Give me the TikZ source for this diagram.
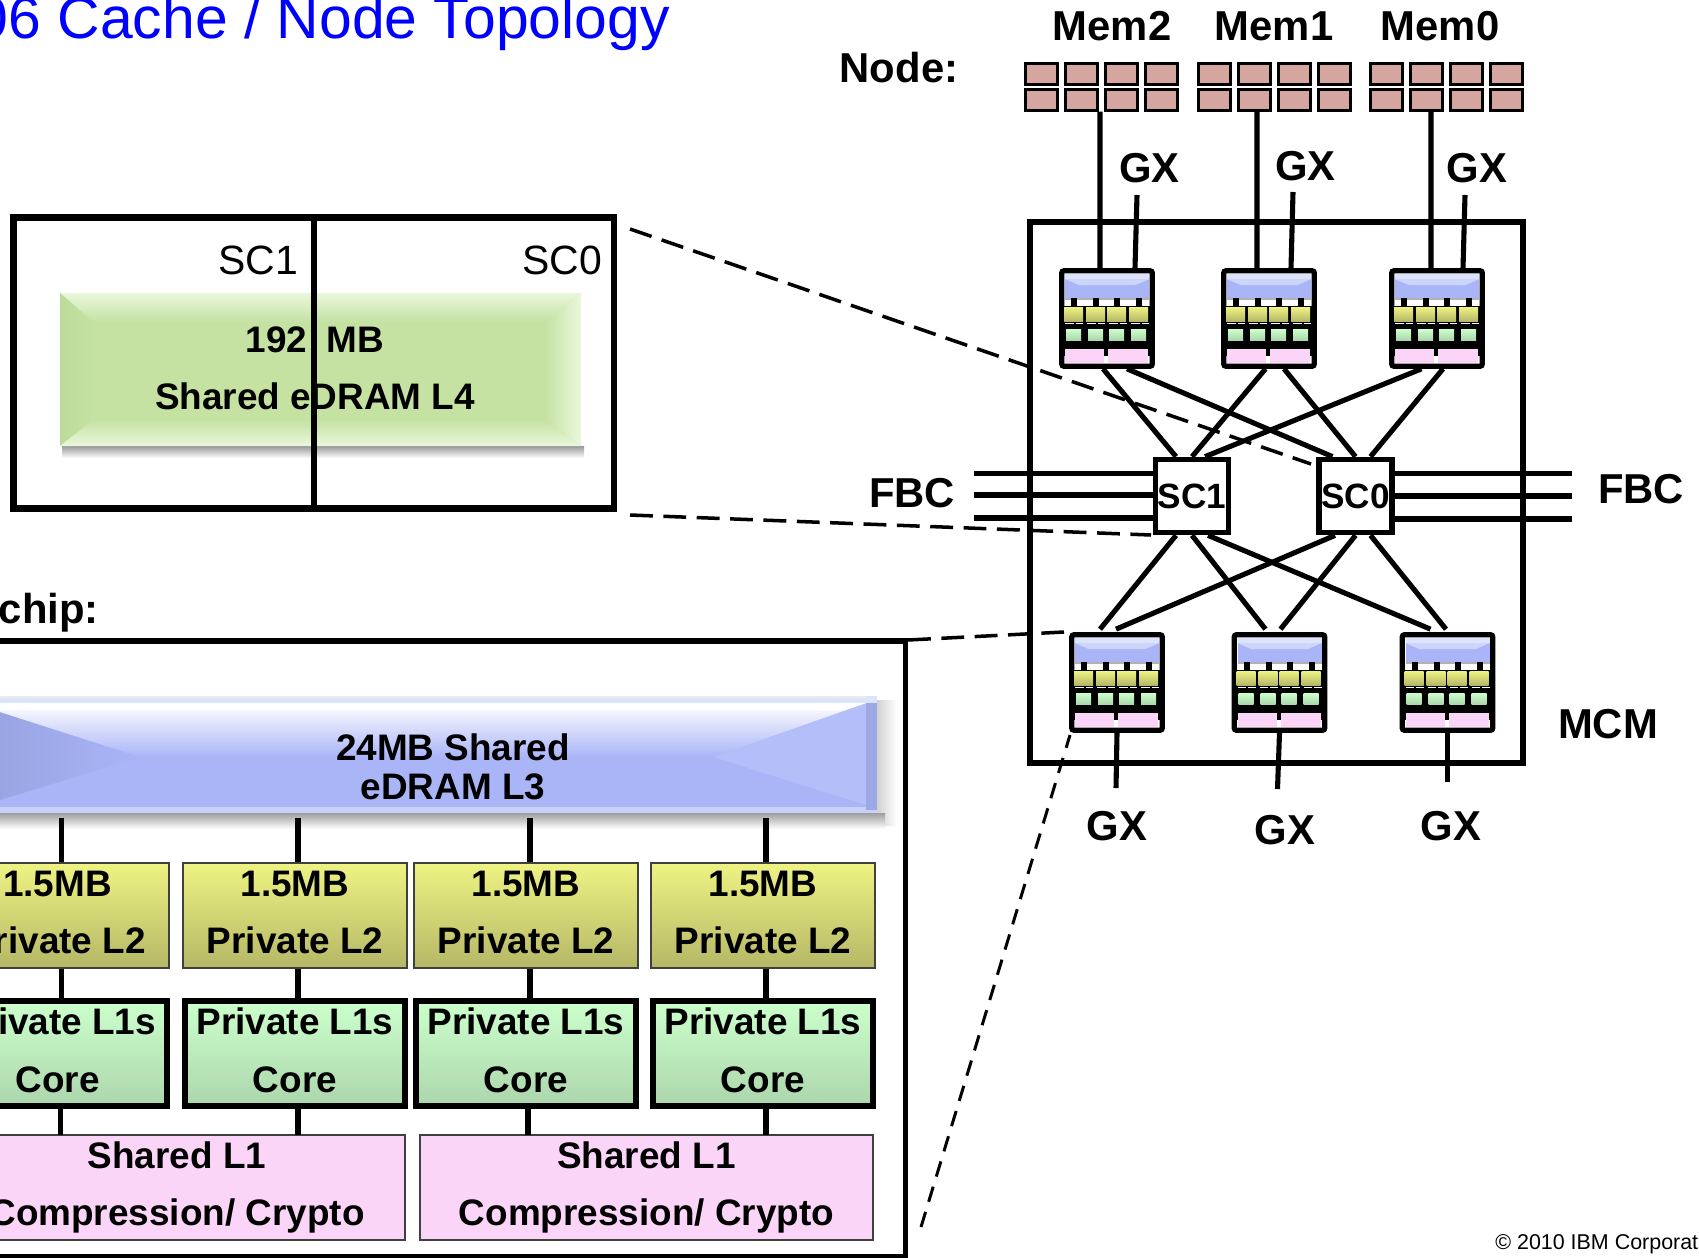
\documentclass[tikz,border=0pt]{standalone}
\usepackage{fontspec}
\setmainfont{Liberation Sans}
\usepackage{tikz}
\usetikzlibrary{calc,positioning,fit}
\definecolor{memfill}{HTML}{D5A6A0}
\definecolor{barblue}{HTML}{AAB5F8}
\definecolor{barlite}{HTML}{DCE4FB}
\definecolor{bardark}{HTML}{97A2E0}
\definecolor{ltwotop}{HTML}{EEF383}
\definecolor{ltwobot}{HTML}{B5B766}
\definecolor{lonetop}{HTML}{CCFFCC}
\definecolor{lonebot}{HTML}{ACD6AC}
\definecolor{pinkfill}{HTML}{FBD5F8}
\definecolor{ebox}{HTML}{C5E2A3}
\definecolor{eboxlite}{HTML}{EAF7DC}
\definecolor{eboxdark}{HTML}{BCDB9A}
\tikzset{
	wire/.style={line width=2.9pt},
	dashwire/.style={line width=2pt,dash pattern=on 13pt off 6pt},
	dashthin/.style={line width=1.7pt,dash pattern=on 9pt off 6pt},
	big/.style={font=\fontsize{23.8pt}{26pt}\selectfont\bfseries,inner sep=0pt},
	mid/.style={font=\fontsize{21pt}{32.6pt}\selectfont\bfseries,inner sep=0pt,align=center},
	thinsc/.style={inner sep=0pt,font=\fontsize{23.3pt}{26pt}\selectfont},
	membox/.style={draw=black,line width=1.6pt,fill=memfill,minimum width=18pt,minimum height=11.5pt,inner sep=0pt},
	chipbox/.style={draw=black,line width=3pt,rounded corners=1.2pt,fill=white,minimum width=51.5pt,minimum height=54.3pt,inner sep=0pt},
	scbox/.style={draw=black,line width=3.3pt,fill=white,minimum width=41.5pt,minimum height=41.5pt,inner sep=0pt,font=\fontsize{20pt}{22pt}\selectfont\bfseries},
	ltwo/.style={draw=black!75,line width=1.2pt,top color=ltwotop,bottom color=ltwobot,mid,minimum width=127pt,minimum height=59.5pt},
	lone/.style={draw=black,line width=3.4pt,top color=lonetop,bottom color=lonebot,mid,minimum width=124.7pt,minimum height=59.5pt},
	shared/.style={draw=black!75,line width=1.2pt,fill=pinkfill,mid,minimum height=59.5pt}
}
\newcommand{\sink}{\rule[-4pt]{0pt}{0pt}}
\newcommand{\smallchip}[2]{
	\node[chipbox] (#1) at (#2) {};
	\begin{scope}[shift={(#1.north west)}]
		\fill[barblue] (6,11) rectangle (90,30);
		\fill[barlite] (6,6) rectangle (90,11);
		\fill[barlite!70!barblue] (6,11) -- (90,11) -- (76,17) -- (20,17) -- cycle;
		\fill[black!30] (6,30) rectangle (90,32);
		\foreach \x in {12,34,55,77} \fill[black] (\x,30) rectangle ++(6,8);
		\fill[black] (5,38) rectangle (91,88);
		\foreach \x in {5,27,48,70} \fill[top color=ltwotop,bottom color=ltwobot] (\x,39) rectangle ++(19,14);
		\foreach \x in {6,28,50,72} \draw[white,line width=.4pt,dash pattern=on 5pt off 1pt] (\x,55.5) -- ++(18,0);
		\foreach \x in {7,29,50,72} \fill[top color=lonetop,bottom color=lonebot] (\x,61) rectangle ++(15,11);
		\fill[pinkfill] (6,81) rectangle (45,95);
		\fill[pinkfill] (49,81) rectangle (89,95);
	\end{scope}
}
\begin{document}
\begin{tikzpicture}[x=0.02cm,y=-0.02cm]
	\useasboundingbox (0,0) rectangle (1699,1257);
	\clip (0,0) rectangle (1699,1257);
	\fill[white] (0,0) rectangle (1699,1257);
	% title and credit
	\node[anchor=base east,text=blue,inner sep=0pt,font=\fontsize{33.5pt}{36pt}\selectfont] (title) at (670,39) {06 Cache / Node Topology};
	\node[anchor=west,inner sep=0pt,font=\fontsize{12.2pt}{14pt}\selectfont] (credit) at (1495,1244) {© 2010 IBM Corporat};
	% node side
	\node[big] (nodelab) at (899,68) {Node:};
	\node[big] (memtwo) at (1112,26) {Mem2};
	\node[big] (memone) at (1274,26) {Mem1};
	\node[big] (memzero) at (1440,26) {Mem0};
	\foreach \g/\x in {c/1024,b/1197,a/1369}
		\foreach \i in {0,1,2,3} {
			\node[membox] (m\g\i) at (\x+17.5+\i*40,74) {};
			\node[membox] (n\g\i) at (\x+17.5+\i*40,100) {};
		}
	\draw[line width=2.9pt] (1030,222) rectangle (1523,763);
	\node[big] (mcmlab) at (1608,724) {MCM};
	% external links
	\node[big] (gxa) at (1149.5,168) {GX};
	\node[big] (gxb) at (1305.5,166) {GX};
	\node[big] (gxc) at (1477,168) {GX};
	\node[big] (gxd) at (1117,826) {GX};
	\node[big] (gxe) at (1285,830) {GX};
	\node[big] (gxf) at (1451,826) {GX};
	\coordinate (ga) at (1137,195);
	\coordinate (gb) at (1293,192);
	\coordinate (gc) at (1465,195);
	\coordinate (gd) at (1116,788);
	\coordinate (ge) at (1277.5,789);
	\coordinate (gf) at (1447.5,782);
	% SC nodes and chips
	\node[scbox] (scone) at (1192,496) {SC1};
	\node[scbox] (sczero) at (1355.5,496) {SC0};
	\smallchip{tone}{1107,318.5}
	\smallchip{ttwo}{1269,318.5}
	\smallchip{tthree}{1437,318.5}
	\smallchip{bone}{1117,682.5}
	\smallchip{btwo}{1279.5,682.5}
	\smallchip{bthree}{1447.5,682.5}
	\draw[wire] ($(nc1.south)+(18.5,0)$) -- ($(tone.north)+(-7,0)$);
	\draw[wire] ($(nb1.south)+(2.5,0)$) -- ($(ttwo.north)+(-12,0)$);
	\draw[wire] ($(na1.south)+(4.5,0)$) -- ($(tthree.north)+(-6,0)$);
	\draw[wire] (ga) -- ($(tone.north)+(28,0)$);
	\draw[wire] (gb) -- ($(ttwo.north)+(22,0)$);
	\draw[wire] (gc) -- ($(tthree.north)+(26,0)$);
	\foreach \s/\dx/\c/\cx in {scone/-16/tone/-4,sczero/-23/tone/20,scone/0/ttwo/-3.5,sczero/0/ttwo/15,scone/13/tthree/-15.5,sczero/15/tthree/6}
		\draw[wire] ($(\c.south)+(\cx,0)$) -- ($(\s.north)+(\dx,0)$);
	\foreach \s/\dx/\c/\cx in {scone/-16/bone/-17,scone/0/btwo/-14,scone/16/bthree/-17,sczero/-20.5/bone/-1,sczero/0/btwo/1,sczero/15/bthree/-1.5}
		\draw[wire] ($(\s.south)+(\dx,0)$) -- ($(\c.north)+(\cx,-3)$);
	\draw[wire] (bone.south) -- (gd);
	\draw[wire] (btwo.south) -- (ge);
	\draw[wire] (bthree.south) -- (gf);
	% fabric links
	\node[big] (fbcl) at (912,493) {FBC};
	\node[big] (fbcr) at (1641,489) {FBC};
	\foreach \y in {473.5,495,518} {
		\coordinate (fl) at (974,\y);
		\draw[wire] (fl) -- (fl -| scone.west);
	}
	\foreach \y in {473.5,496,519} {
		\coordinate (fr) at (1572,\y);
		\draw[wire] (fr) -- (fr -| sczero.east);
	}
	% L4 detail
	\shade[top color=black!40,bottom color=white] (62,446) rectangle (584,458);
	\fill[ebox] (60,293) rectangle (581,446);
	\shade[top color=eboxlite,bottom color=ebox] (60,293) -- (581,293) -- (545,322) -- (93,322) -- cycle;
	\shade[left color=eboxdark,right color=ebox] (60,293) -- (93,322) -- (93,420) -- (60,446) -- cycle;
	\shade[left color=ebox,right color=eboxlite] (581,293) -- (545,322) -- (545,420) -- (581,446) -- cycle;
	\shade[top color=ebox,bottom color=eboxlite] (60,446) -- (93,420) -- (545,420) -- (581,446) -- cycle;
	\node[mid] (lfourtext) at (315,368) {192\hspace{11pt}MB\\Shared eDRAM L4};
	\node[draw=black,line width=3.6pt,minimum width=341.6pt,minimum height=165.5pt,inner sep=0pt] (lfour) at (313.7,363) {};
	\draw[line width=3.2pt] (lfour.north -| 314,0) -- (lfour.south -| 314,0);
	\node[thinsc] (scl) at (258,260) {SC1};
	\node[thinsc] (scr) at (562,260) {SC0};
	% chip detail
	\node[big,anchor=east] (chiplab) at (99,613) {chip:};
	\draw[wire] (-20,641) -- (905.5,641) -- (905.5,1257) -- (-20,1257);
	\fill[black!8] (-20,696) rectangle (877,703);
	\fill[barlite] (-20,698) rectangle (877,703);
	\shade[left color=black!18,right color=white] (877,700) rectangle (897,825);
	\shade[top color=black!38,bottom color=white] (-20,813) rectangle (885,829);
	\fill[barblue] (-20,703) rectangle (877,807);
	\fill[barlite!60!barblue] (-20,807) rectangle (877,813);
	\shade[left color=bardark,right color=barblue] (-20,708) -- (0,712) -- (140,757) -- (0,800) -- (-20,803) -- cycle;
	\fill[barblue!88!white] (866,703) -- (866,805) -- (713,757) -- cycle;
	\shade[top color=white,bottom color=barblue] (-20,703) -- (866,703) -- (713,757) -- (140,757) -- (0,712) -- (-20,708) -- cycle;
	\fill[white] (-20,703) -- (866,703) -- (845,710) -- (-20,710) -- cycle;
	\fill[bardark!70!barblue] (866,703) rectangle (877,810);
	\fill[barlite] (866,696) rectangle (877,703);
	\node[mid,font=\fontsize{21pt}{22.2pt}\selectfont\bfseries] (lthree) at (453,767) {24MB Shared\\eDRAM L3};
	\foreach \n/\cx in {a/57.5,b/295,c/526,d/763} {
		\node[ltwo] (ltwo\n) at (\cx,915.5) {1.5MB\\Private L2\sink};
		\node[lone] (lone\n) at (\cx,1053.5) {Private L1s\\Core\sink};
	}
	\node[shared,minimum width=260pt] (sha) at (177,1187.5) {Shared L1\\Compression/ Crypto\sink};
	\node[shared,minimum width=258pt] (shb) at (646.5,1187.5) {Shared L1\\Compression/ Crypto\sink};
	\foreach \n/\dx in {a/4,b/3,c/4,d/3} {
		\draw[wire] ($(ltwo\n.north)+(\dx,0)$) -- ($(ltwo\n.north)+(\dx,-44)$);
		\draw[wire] ($(ltwo\n.south)+(\dx,0)$) -- ($(lone\n.north)+(\dx,0)$);
	}
	\foreach \n/\dx in {a/3,b/3,c/2,d/3}
		\draw[wire] ($(lone\n.south)+(\dx,0)$) -- ($(lone\n.south)+(\dx,26)$);
	% zoom guides
	\draw[dashwire] (630,229) -- (1311,464);
	\draw[dashwire] (630,515) -- (1151,535);
	\draw[dashwire] (908,640) -- (1064,632);
	\draw[dashthin] (921,1227) -- (1070,735);
\end{tikzpicture}
\end{document}
